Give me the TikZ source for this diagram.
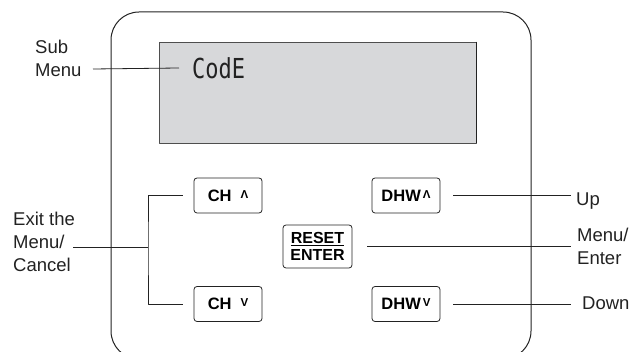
\documentclass[tikz,border=0pt]{standalone}
\usepackage{fontspec}
\setmainfont{Liberation Sans}
\newfontfamily\lcdfont{DejaVu Sans Mono}
\definecolor{lcdgray}{HTML}{D7D8DA}
\definecolor{inkA}{HTML}{222222}
\tikzset{
	btnA/.style={
		draw=inkA, rounded corners=3pt, minimum width=68pt, minimum height=35pt,
		inner sep=0pt, line width=0.8pt,
		font={\bfseries\fontsize{16.5}{17}\selectfont}
	},
	lblA/.style={
		align=left, inner sep=0pt, text=inkA,
		font={\fontsize{18.5}{23}\selectfont}
	},
	lineA/.style={draw=inkA, line width=0.8pt},
}
\begin{document}
\begin{tikzpicture}[x=1pt, y=-1pt, line join=round]
\clip (0,0) rectangle (635,352);
% case and display
\draw[line width=1pt, inkA, rounded corners=28pt] (111,12) rectangle (531,359);
\node[draw=inkA!80, fill=lcdgray, line width=0.8pt, minimum width=317pt, minimum height=101pt,
	inner sep=0pt] (lcd) at (317.5,92.5) {};
\draw[inkA, line width=1.6pt] (lcd.north east) -- (lcd.south east);
\node[anchor=west, inner sep=0pt, text=inkA, font={\lcdfont\fontsize{22}{22}\selectfont}]
	(code) at (192,68) {\scalebox{1}[1.25]{CodE}};
% keys
\node[btnA] (chup) at (228,195.5) {CH\hspace{9pt}\raisebox{3pt}{\fontsize{11.5}{11.5}\selectfont Λ}};
\node[btnA] (chdn) at (228,304) {CH\hspace{9pt}\raisebox{3.5pt}{\fontsize{11.5}{11.5}\selectfont V}};
\node[btnA] (dhwup) at (406,195.5) {DHW\hspace{2pt}\raisebox{3pt}{\fontsize{11.5}{11.5}\selectfont Λ}};
\node[btnA] (dhwdn) at (406,304) {DHW\hspace{2pt}\raisebox{3.5pt}{\fontsize{11.5}{11.5}\selectfont V}};
\node[btnA, minimum width=69pt, minimum height=43pt, align=center,
	font={\bfseries\fontsize{16}{17}\selectfont}] (reset) at (317.5,246.5) {\underline{RESET}\\ENTER};
% labels (base = last line)
\node[lblA, anchor=base west] (lblsub) at (35,77) {Sub\\Menu};
\node[lblA, anchor=base west] (lblexit) at (13,272) {Exit the\\Menu/\\Cancel};
\node[lblA, anchor=base west] (lblup) at (576,206) {Up};
\node[lblA, anchor=base west] (lblenter) at (577,265) {Menu/\\Enter};
\node[lblA, anchor=base west] (lbldown) at (582,310) {Down};
% leaders
\coordinate (subA) at (93,69);
\coordinate (exitA) at (73,247);
\coordinate (brk) at (148,247);
\coordinate (upA) at (571,195.5);
\coordinate (enterA) at (571,246.5);
\coordinate (downA) at (571,304);
\draw[lineA] (subA) -- ([xshift=-13pt]code.west);
\draw[lineA] ([xshift=-11pt]chup.west) -| (brk) |- ([xshift=-11pt]chdn.west);
\draw[lineA] (exitA) -- (brk);
\draw[lineA] ([xshift=13pt]dhwup.east) -- (upA);
\draw[lineA] ([xshift=15pt]reset.east) -- (enterA);
\draw[lineA] ([xshift=13pt]dhwdn.east) -- (downA);
\end{tikzpicture}
\end{document}
